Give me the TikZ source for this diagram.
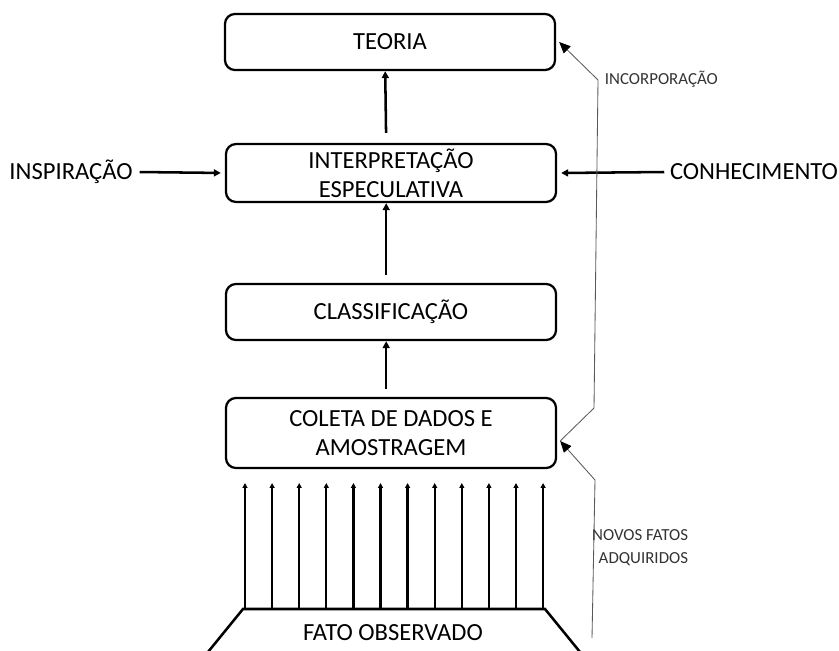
\documentclass[tikz,border=0pt]{standalone}
\usepackage{fontspec}
\setmainfont{Carlito}
\usetikzlibrary{arrows.meta, positioning, calc}

\begin{document}
\begin{tikzpicture}[x=0.025cm, y=-0.025cm,
    etapa/.style={draw, line width=1.6pt, rounded corners=0.25cm, minimum width=8.25cm, align=center, font=\fontsize{17.5}{20.5}\selectfont},
    rotulo/.style={font=\fontsize{17.5}{20.5}\selectfont},
    nota/.style={font=\fontsize{12}{16.4}\selectfont, text=black!80, align=right},
    seta/.style={-{Triangle[length=5pt, width=5pt]}, line width=1.8pt},
    fato/.style={-{Triangle[length=3.5pt, width=3.5pt]}, line width=1.6pt},
    retorno/.style={-{Triangle[length=8pt, width=7pt, color=black]}, draw=gray!70!black, line width=0.6pt}]
    \useasboundingbox (0,0) rectangle (839,650);

    \node (Teoria) at (390,42) [etapa, minimum height=1.4cm] {TEORIA};
    \node (Interp) at (391,173) [etapa, minimum height=1.35cm] {INTERPRETAÇÃO\\ESPECULATIVA};
    \node (Classif) at (391,312) [etapa, minimum height=1.4cm] {CLASSIFICAÇÃO};
    \node (Coleta) at (391,433) [etapa, minimum height=1.75cm] {COLETA DE DADOS E\\AMOSTRAGEM};

    \node (Inspir) at (71,172) [rotulo] {INSPIRAÇÃO};
    \node (Conhec) at (754,172) [rotulo] {CONHECIMENTO};

    % etapas
    \draw[seta, shorten <=0.2cm] ([xshift=-0.12cm]Coleta.north) -- ([xshift=-0.12cm]Classif.south);
    \draw[seta, shorten <=0.2cm] ([xshift=-0.12cm]Classif.north) -- ([xshift=-0.12cm]Interp.south);
    \draw[seta, shorten <=0.25cm] ([xshift=-0.12cm]Interp.north) -- ([xshift=-0.12cm]Teoria.south);
    \draw[seta, shorten <=0.05cm, shorten >=0.1cm] (Inspir.east) -- (Interp.west);
    \draw[seta, shorten <=0.02cm] (Conhec.west) -- ([xshift=0.1cm]Interp.east);

    % retorno
    \coordinate (ColetaIn) at ($(Coleta.east)+(3,8)$);
    \coordinate (TeoriaIn) at ($(Teoria.east)+(3,0)$);
    \coordinate (r1) at (594,408);
    \coordinate (r2) at (598,80);
    \coordinate (n1) at (592,638);
    \coordinate (n2) at (595,480);
    \draw[retorno] (ColetaIn) -- (r1) -- (r2) -- (TeoriaIn);
    \draw[retorno] (n1) -- (n2) -- (ColetaIn);
    \node (Incorp) at (600,79) [nota, anchor=west] {INCORPORAÇÃO};
    \node (Novos) at (693,548) [nota, anchor=east] {NOVOS FATOS\\ADQUIRIDOS};

    % fato observado
    \coordinate (BaseE) at (243,609);
    \coordinate (BaseD) at (545,609);
    \draw[line width=1.8pt] (208,652) -- (BaseE) -- (BaseD) -- (580,652);
    \foreach \i in {0,...,11}
        \draw[fato] ($(BaseE)+(2+27.1*\i,0)$) -- ($(BaseE)+(2+27.1*\i,-126)$);
    \node (Fato) at (393,633) [rotulo] {FATO OBSERVADO};
\end{tikzpicture}
\end{document}
